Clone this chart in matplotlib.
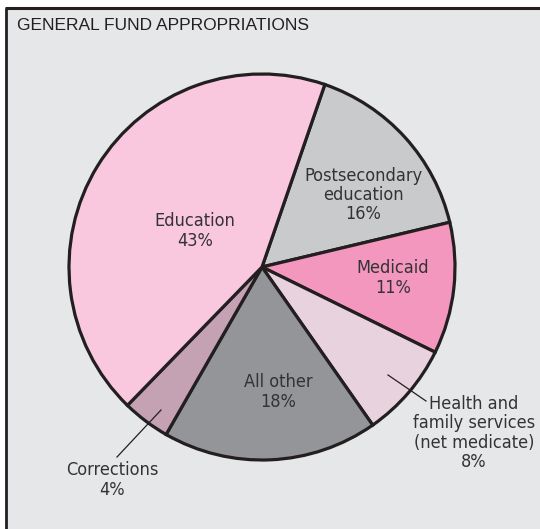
import matplotlib
matplotlib.use("Agg")
import matplotlib.pyplot as plt
from matplotlib import font_manager as fm
from matplotlib.patches import Rectangle

# data
categories = ["Postsecondary\neducation", "Medicaid", "Health and\nfamily services\n(net medicate)",
              "All other", "Corrections", "Education"]
shares = [16, 11, 8, 18, 4, 43]
colors = ["#C9CACC", "#F497BF", "#E7D2DE", "#939598", "#C5A1B4", "#F9C8DF"]

W, H = 540, 529
bg = "#E6E7E8"
ink = "#231F20"
txt = "#333333"

# look for a condensed face, the original uses one
narrow = [f for f in fm.fontManager.ttflist
          if ("Narrow" in f.name or "Condensed" in f.name or str(f.stretch) in ("condensed", "semi-condensed"))
          and f.weight in (400, "normal", "regular") and f.style == "normal"]
if narrow:
    lab_font = dict(fontproperties=fm.FontProperties(fname=narrow[0].fname, size=13))
else:
    lab_font = dict(family=["Roboto", "DejaVu Sans"], fontsize=11.5)

fig = plt.figure(figsize=(W / 100, H / 100), dpi=100, facecolor="white")
ax = fig.add_axes([0, 0, 1, 1])

def py(y):
    # pixel row (from top) -> data y
    return H - y

# panel background + frame (top and left edges only, as cropped)
ax.add_patch(Rectangle((6, 0), W - 6, py(8), facecolor=bg, edgecolor="none", zorder=0))
ax.plot([5, W], [py(8), py(8)], color=ink, lw=2.2, solid_capstyle="butt", zorder=1)
ax.plot([6, 6], [py(8), 0], color=ink, lw=2.0, solid_capstyle="butt", zorder=1)

wedges, _ = ax.pie(shares, colors=colors, startangle=71, counterclock=False,
                   center=(262, py(267)), radius=193,
                   wedgeprops=dict(edgecolor=ink, linewidth=2.3))
for w in wedges:
    w.set_zorder(2)

ax.set_xlim(0, W)
ax.set_ylim(0, H)
ax.set_aspect("equal")
ax.axis("off")

ax.text(17, py(25), "GENERAL FUND APPROPRIATIONS", fontsize=12.5, color=ink,
        family=["Liberation Sans", "DejaVu Sans"], ha="left", va="center")

kw = dict(color=txt, ha="center", va="center", linespacing=1.1, zorder=5, **lab_font)
pct = [f"{v}%" for v in shares]

ax.text(363, py(195), f"{categories[0]}\n{pct[0]}", **kw)
ax.text(393, py(278), f"{categories[1]}\n{pct[1]}", **kw)
ax.text(278, py(392), f"{categories[3]}\n{pct[3]}", **kw)
ax.text(195, py(231), f"{categories[5]}\n{pct[5]}", **kw)
ax.text(474, py(433), f"{categories[2]}\n{pct[2]}", **kw)
ax.text(112, py(480), f"{categories[4]}\n{pct[4]}", **kw)

# leader lines
ax.plot([388, 426], [py(375), py(401)], color=ink, lw=0.9, zorder=4)
ax.plot([161, 117], [py(410), py(457)], color=ink, lw=0.9, zorder=4)

fig.savefig("out.png", dpi=100, facecolor="white")
